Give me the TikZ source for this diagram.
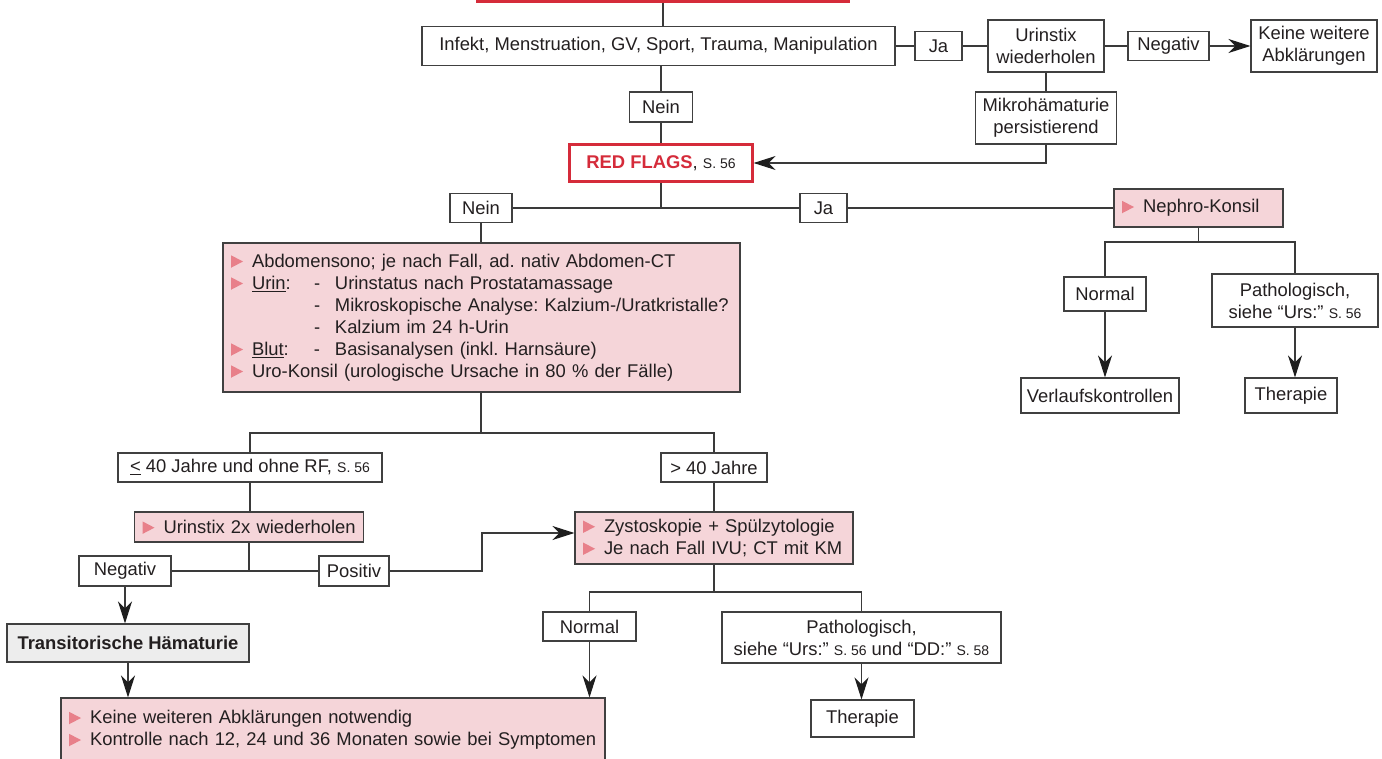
\documentclass[tikz,border=0pt]{standalone}
\usepackage{fontspec}
\setmainfont{Liberation Sans}
\usetikzlibrary{arrows.meta}

\definecolor{txt}{HTML}{231F20}
\definecolor{bordc}{HTML}{404040}
\definecolor{linec}{HTML}{3A3A3A}
\definecolor{tipc}{HTML}{1E1E1E}
\definecolor{pinkc}{HTML}{F5D5D9}
\definecolor{trifill}{HTML}{E8808A}
\definecolor{redc}{HTML}{D52B3A}
\definecolor{grayc}{HTML}{EDEDED}

\frenchspacing
% small page references
\newcommand\sm[1]{{\fontsize{14}{16}\selectfont #1}}
% pink bullet triangle, followed by the gap before the item text
\newcommand\tri{\tikz[baseline=0pt]\fill[trifill] (0pt,-0.5pt) -- (0pt,12pt) -- (12pt,5.75pt) -- cycle;}
\newcommand\bul{\makebox[21pt][l]{\tri}}

\tikzset{
  box/.style={draw=bordc, line width=1.1pt, fill=white, inner sep=0pt,
              align=center, text=txt},
  sz/.style 2 args={minimum width=#1pt, minimum height=#2pt},
  pinkl/.style={box, fill=pinkc, align=left, inner xsep=8pt, inner ysep=0pt},
  ln/.style={draw=linec, line width=1.1pt},
  arr/.style={ln, -{Stealth[length=22pt, width=14pt, inset=7pt, color=tipc]}},
}

\begin{document}
\begin{tikzpicture}[x=1pt, y=-1pt, font=\fontsize{18.4}{22}\selectfont]
\useasboundingbox (0,0) rectangle (1382,758);
\clip (0,0) rectangle (1382,758);

% ---------- top row ----------
\node[draw=redc, line width=2.4pt, minimum width=372pt, minimum height=44pt, inner sep=0pt] (start) at (663,-20.5) {};
\node[box, sz={473}{39}] (infekt) at (658.5,46) {Infekt, Menstruation, GV, Sport, Trauma, Manipulation};
\node[box, sz={47}{29}] (ja1) at (938.5,46) {Ja};
\node[box, sz={116}{52}] (urin) at (1046,46) {Urinstix\\wiederholen};
\node[box, sz={81}{29}] (neg1) at (1168.5,46) {Negativ};
\node[box, sz={126}{52}] (keine) at (1314,46) {Keine weitere\\Abklärungen};
\node[box, sz={141}{52}] (mikro) at (1046,118) {Mikrohämaturie\\persistierend};
\node[box, sz={63}{30}] (nein1) at (661,107) {Nein};
\node[box, draw=redc, line width=2.2pt, sz={183}{37}] (rf) at (661,163) {\textbf{\color{redc}RED FLAGS}, \sm{S. 56}};

% ---------- second level ----------
\node[box, sz={62}{29}] (nein2) at (481,208) {Nein};
\node[box, sz={47}{29}] (ja2) at (823.5,208) {Ja};
\node[pinkl, text width=153pt, minimum height=38pt] (nephro) at (1198.5,208) {\mbox{\bul Nephro-Konsil}};

\node[box, sz={82}{34}] (normal1) at (1105,294) {Normal};
\node[box, sz={166}{53}] (patho1) at (1295,300.5) {Pathologisch,\\siehe “Urs:” \sm{S. 56}};
\node[box, sz={158}{35}] (verlauf) at (1100,395.5) {Verlaufskontrollen};
\node[box, sz={92}{35}] (thera1) at (1291,395.5) {Therapie};

\node[pinkl, text width=501pt, minimum height=149pt] (big) at (481.5,317.5) {%
\mbox{\bul Abdomensono; je nach Fall, ad. nativ Abdomen-CT}\\
\mbox{\bul\makebox[62pt][l]{\underline{Urin}:}\makebox[21pt][l]{-}Urinstatus nach Prostatamassage}\\
\mbox{\hspace*{83pt}\makebox[21pt][l]{-}Mikroskopische Analyse: Kalzium-/Uratkristalle?}\\
\mbox{\hspace*{83pt}\makebox[21pt][l]{-}Kalzium im 24 h-Urin}\\
\mbox{\bul\makebox[62pt][l]{\underline{Blut}:}\makebox[21pt][l]{-}Basisanalysen (inkl. Harnsäure)}\\
\mbox{\bul Uro-Konsil (urologische Ursache in 80 \% der Fälle)}};

% ---------- age split ----------
\node[box, sz={264}{29}] (le40) at (250,467.5) {\underline{<} 40 Jahre und ohne RF, \sm{S. 56}};
\node[box, sz={106}{29}] (gt40) at (714,467.5) {> 40 Jahre};
\node[pinkl, text width=213pt, minimum height=30pt] (stix2) at (249,527) {\mbox{\bul Urinstix 2x wiederholen}};
\node[box, sz={92}{30}] (neg2) at (125,571) {Negativ};
\node[box, sz={70}{30}] (pos) at (354,571) {Positiv};
\node[pinkl, text width=262pt, minimum height=52pt] (zysto) at (714,538) {%
\mbox{\bul Zystoskopie + Spülzytologie}\\
\mbox{\bul Je nach Fall IVU; CT mit KM}};
\node[box, sz={93}{29}] (normal2) at (589.5,626.5) {Normal};
\node[box, sz={279}{51}] (patho2) at (861.5,637.5) {Pathologisch,\\siehe “Urs:” \sm{S. 56} und “DD:” \sm{S. 58}};
\node[box, sz={103}{37}] (thera2) at (862.5,718.5) {Therapie};
\node[box, fill=grayc, sz={242}{38}] (trans) at (128,643) {\textbf{Transitorische Hämaturie}};
\node[pinkl, text width=528pt, minimum height=64pt] (bottom) at (333,730) {%
\mbox{\bul Keine weiteren Abklärungen notwendig}\\
\mbox{\bul Kontrolle nach 12, 24 und 36 Monaten sowie bei Symptomen}};

% ---------- junctions ----------
\coordinate (j1) at (661,208);
\coordinate (j3) at (481,433);
\coordinate (j4) at (249,571);
\coordinate (c1) at (482,533);
\coordinate (j5) at (714,592);
\coordinate (j6) at (1198.5,242);

% ---------- connectors ----------
\draw[ln] (start.south) -- (start.south |- infekt.north);
\draw[ln] (infekt.east) -- (ja1.west);
\draw[ln] (ja1.east) -- (urin.west);
\draw[ln] (urin.east) -- (neg1.west);
\draw[arr] (neg1.east) -- (keine.west);
\draw[ln] (urin.south) -- (mikro.north);
\draw[arr] (mikro.south) |- (rf.east);
\draw[ln] (nein1.north) -- (nein1.north |- infekt.south);
\draw[ln] (nein1.south) -- (rf.north);

\draw[ln] (rf.south) -- (j1);
\draw[ln] (nein2.east) -- (ja2.west);
\draw[ln] (ja2.east) -- (nephro.west);
\draw[ln] (nein2.south) -- (nein2.south |- big.north);

\draw[ln] (nephro.south) -- (j6);
\draw[ln] (normal1.north) |- (j6) -| (patho1.north);
\draw[arr] (normal1.south) -- (normal1.south |- verlauf.north);
\draw[arr] (patho1.south) -- (patho1.south |- thera1.north);

\draw[ln] (big.south -| j3) -- (j3);
\draw[ln] (le40.north) |- (j3) -| (gt40.north);
\draw[ln] (le40.south) -- (le40.south |- stix2.north);
\draw[ln] (stix2.south) -- (j4);
\draw[ln] (neg2.east) -- (pos.west);
\draw[arr] (pos.east) -| (c1) -- (zysto.west |- c1);
\draw[ln] (gt40.south) -- (zysto.north);
\draw[ln] (zysto.south) -- (j5);
\draw[ln] (normal2.north) |- (j5) -| (patho2.north);
\draw[arr] (normal2.south) -- (normal2.south |- bottom.north);
\draw[arr] (patho2.south) -- (patho2.south |- thera2.north);
\draw[arr] (neg2.south) -- (neg2.south |- trans.north);
\draw[arr] (trans.south) -- (trans.south |- bottom.north);
\end{tikzpicture}
\end{document}
